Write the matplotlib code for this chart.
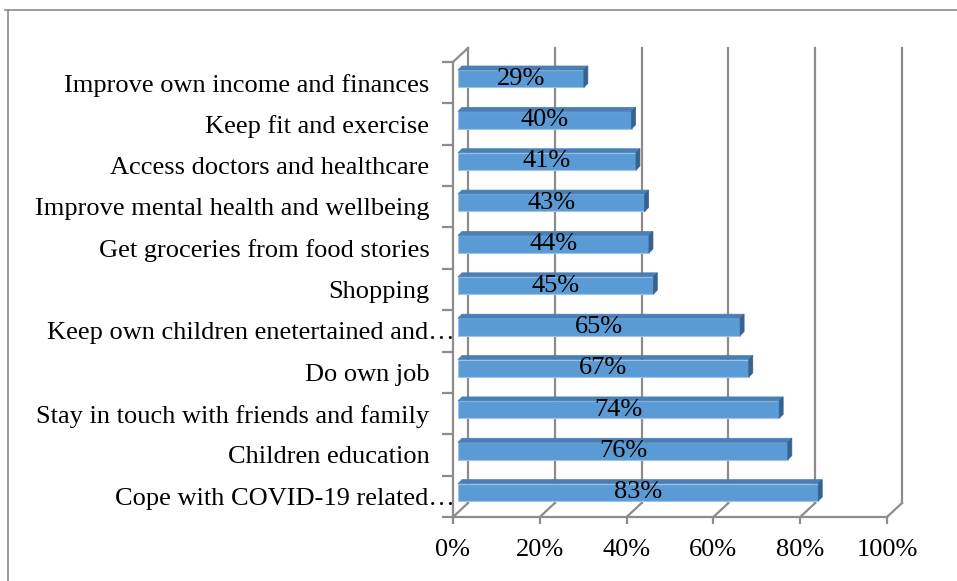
import matplotlib
matplotlib.use("Agg")
import matplotlib.pyplot as plt
from matplotlib.patches import Polygon
from matplotlib.lines import Line2D
import matplotlib.transforms as mtrans

# ---- data (bottom to top) ----
categories = [
    "Cope with COVID-19 related…",
    "Children education",
    "Stay in touch with friends and family",
    "Do own job",
    "Keep own children enetertained and…",
    "Shopping",
    "Get groceries from food stories",
    "Improve mental health and wellbeing",
    "Access doctors and healthcare",
    "Keep fit and exercise",
    "Improve own income and finances",
]
values = [0.83, 0.76, 0.74, 0.67, 0.65, 0.45, 0.44, 0.43, 0.41, 0.40, 0.29]
xticks = [0, 0.2, 0.4, 0.6, 0.8, 1.0]
xticklabels = ["0%", "20%", "40%", "60%", "80%", "100%"]

W, H = 957, 581
fig = plt.figure(figsize=(W / 100, H / 100), dpi=100)
fig.patch.set_facecolor("white")

FS = 19
FAM = "Liberation Serif"

# front plane of the 3-D box
x0, x1 = 453, 887
ytop, ybot = 62, 517
ax = fig.add_axes([x0 / W, (H - ybot) / H, (x1 - x0) / W, (ybot - ytop) / H])
n = len(categories)
ax.set_xlim(0, 1)
ax.set_ylim(-0.5, n - 0.5)
ax.set_facecolor("none")
for s in ax.spines.values():
    s.set_visible(False)

# pixel -> data conversions
ux = 1.0 / (x1 - x0)
uy = n / (ybot - ytop)
Dx, Dy = 15 * ux, 14 * uy      # depth of the box
Bx1, By1 = 5 * ux, 4 * uy      # bar front depth
Bx2, By2 = 9 * ux, 8 * uy      # bar back depth

grid_c = "#8c8c8c"
lw_grid = 1.6
ylo, yhi = -0.5, n - 0.5

# back wall gridlines and floor diagonals
for t in xticks:
    ax.add_line(Line2D([t + Dx, t + Dx], [ylo + Dy, yhi + Dy], color=grid_c,
                       lw=lw_grid, clip_on=False, zorder=1))
    ax.add_line(Line2D([t, t + Dx], [ylo, ylo + Dy], color=grid_c,
                       lw=lw_grid, clip_on=False, zorder=1))
# front floor line and left wall
ax.add_line(Line2D([0, 1], [ylo, ylo], color=grid_c, lw=lw_grid, clip_on=False, zorder=1))
ax.add_line(Line2D([0, 0], [ylo, yhi], color=grid_c, lw=lw_grid, clip_on=False, zorder=1))
ax.add_line(Line2D([0, Dx], [yhi, yhi + Dy], color=grid_c, lw=lw_grid, clip_on=False, zorder=1))

# bars
front_c = "#5b9bd5"
top_c = "#4a7fb5"
side_c = "#36628f"
edge_c = "#9cc3e8"
h = 0.42
ys = list(range(n))
bar_tr = ax.transData + mtrans.ScaledTranslation(5 / 100, 4 / 100, fig.dpi_scale_trans)
ax.barh(ys, values, height=h, left=0, color=front_c, edgecolor=edge_c,
        linewidth=0.8, transform=bar_tr, zorder=3)
for y, v in zip(ys, values):
    yt = y + h / 2
    yb = y - h / 2
    top = [(Bx1, yt + By1), (v + Bx1, yt + By1), (v + Bx2, yt + By2), (Bx2, yt + By2)]
    ax.add_patch(Polygon(top, closed=True, facecolor=top_c, edgecolor=top_c,
                         lw=0.5, zorder=3, clip_on=False))
    side = [(v + Bx1, yb + By1), (v + Bx1, yt + By1), (v + Bx2, yt + By2), (v + Bx2, yb + By2)]
    ax.add_patch(Polygon(side, closed=True, facecolor=side_c, edgecolor=side_c,
                         lw=0.5, zorder=3, clip_on=False))
    ax.text(v / 2 + Bx1, y + By1, f"{round(v * 100)}%", ha="center", va="center",
            fontsize=FS, family=FAM, color="black", zorder=4)

# ticks
ax.set_yticks(ys)
ax.set_yticklabels(categories, fontsize=FS, family=FAM)
ax.tick_params(axis="y", length=0, pad=17)
ax.set_yticks([k - 0.5 for k in range(n + 1)], minor=True)
ax.tick_params(axis="y", which="minor", length=8, width=1.6, color=grid_c, direction="out")
ax.set_xticks(xticks)
ax.set_xticklabels(xticklabels, fontsize=FS, family=FAM)
ax.tick_params(axis="x", length=5, width=1.6, color=grid_c, direction="out", pad=11)
for lab in ax.get_yticklabels():
    if lab.get_text().endswith("…"):
        lab.set_transform(lab.get_transform() +
                          mtrans.ScaledTranslation(25 / 100, 0, fig.dpi_scale_trans))

# outer frame (top and left edges visible)
fig.add_artist(Line2D([5 / W, 1], [1 - 10 / H, 1 - 10 / H], transform=fig.transFigure,
                      color="#8a8a8a", lw=1.2))
fig.add_artist(Line2D([8 / W, 8 / W], [0, 1 - 10 / H], transform=fig.transFigure,
                      color="#8a8a8a", lw=1.2))

fig.savefig("out.png", dpi=100, facecolor="white")
